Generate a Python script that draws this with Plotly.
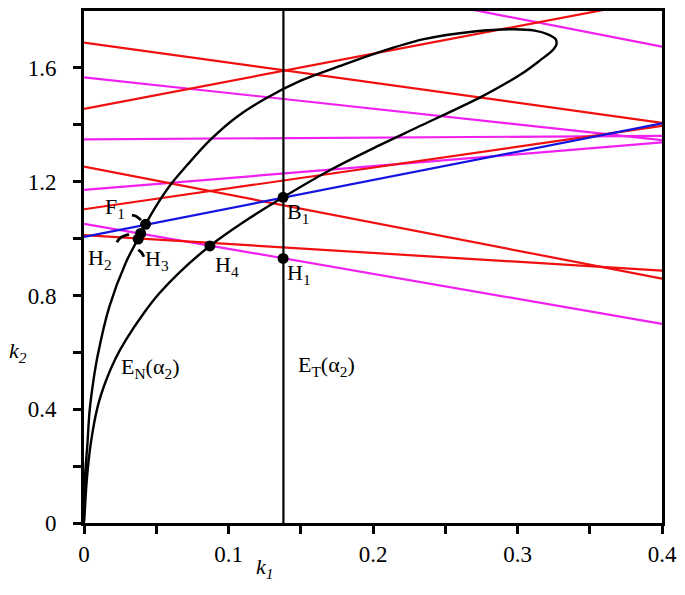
import plotly.graph_objects as go

# straight loci: value of k2 at k1 = 0 and at k1 = 0.4
K1_ENDS = [0.0, 0.4]
RED_LINES = [[1.689, 1.407], [1.456, 1.843], [1.253, 0.859],
             [1.012, 0.887], [1.103, 1.396]]
MAGENTA_LINES = [[1.567, 1.346], [1.349, 1.361], [2.07, 1.675],
                 [1.052, 0.700], [1.171, 1.338]]
BLUE_LINE = [1.006, 1.405]

# E_N(alpha_2): steep branch from origin up to the tip ...
EN_UP_K1 = [0.0, 0.0008, 0.0024, 0.0038, 0.0065, 0.0095, 0.0175, 0.0289,
            0.0375, 0.0426, 0.050, 0.060, 0.072, 0.087, 0.105, 0.1248,
            0.150, 0.1773, 0.2024, 0.2344, 0.270, 0.298, 0.312, 0.321,
            0.3265]
EN_UP_K2 = [0.0, 0.17, 0.28, 0.39, 0.50, 0.59, 0.76, 0.915,
            1.0, 1.05, 1.115, 1.19, 1.262, 1.345, 1.425, 1.490,
            1.555, 1.607, 1.652, 1.700, 1.728, 1.736, 1.731, 1.718,
            1.700]
# ... and the lower branch from the tip back down to the origin
EN_DN_K1 = [0.3268, 0.3235, 0.316, 0.3045, 0.2755, 0.2344, 0.2024, 0.1704,
            0.1378, 0.111, 0.0871, 0.0654, 0.0517, 0.0417, 0.0289, 0.022,
            0.0152, 0.0095, 0.0047, 0.0019, 0.0]
EN_DN_K2 = [1.680, 1.658, 1.628, 1.585, 1.500, 1.400, 1.323, 1.241,
            1.145, 1.060, 0.974, 0.878, 0.805, 0.740, 0.643, 0.580,
            0.500, 0.410, 0.280, 0.150, 0.0]

ET_K1 = 0.138  # vertical line E_T(alpha_2)
K2_RANGE = [0.0, 1.8]

# marked points
PT_NAMES = ["F1", "H2", "H3", "H4", "B1", "H1"]
PT_K1 = [0.0426, 0.0392, 0.0375, 0.0871, 0.1378, 0.1378]
PT_K2 = [1.050, 1.018, 0.998, 0.974, 1.145, 0.930]

# little curved leaders next to F1, H2, H3
LEAD_F1 = ([0.0332, 0.0366, 0.0394], [1.082, 1.077, 1.065])
LEAD_H2 = ([0.0227, 0.0255, 0.0312], [0.987, 1.004, 1.015])
LEAD_H3 = ([0.0375, 0.0398, 0.0414], [0.960, 0.951, 0.936])

X_TICKS = [0, 0.05, 0.1, 0.15, 0.2, 0.25, 0.3, 0.35, 0.4]
X_TEXT = ["0", "", "0.1", "", "0.2", "", "0.3", "", "0.4"]
Y_TICKS = [0, 0.2, 0.4, 0.6, 0.8, 1.0, 1.2, 1.4, 1.6]
Y_TEXT = ["0", "", "0.4", "", "0.8", "", "1.2", "", "1.6"]

SERIF = "Liberation Serif, Times New Roman, serif"
FONT = dict(family=SERIF, size=22, color="black")

fig = go.Figure()
for ys in MAGENTA_LINES:
    fig.add_scatter(x=K1_ENDS, y=ys, mode="lines",
                    line=dict(color="#f020f0", width=2.2))
for ys in RED_LINES:
    fig.add_scatter(x=K1_ENDS, y=ys, mode="lines",
                    line=dict(color="#f01010", width=2.2))
fig.add_scatter(x=K1_ENDS, y=BLUE_LINE, mode="lines",
                line=dict(color="#1414e0", width=2.2))
fig.add_scatter(x=[ET_K1, ET_K1], y=K2_RANGE, mode="lines",
                line=dict(color="black", width=2.2))
fig.add_scatter(x=EN_UP_K1 + EN_DN_K1, y=EN_UP_K2 + EN_DN_K2, mode="lines",
                line=dict(color="black", width=2.4, shape="spline",
                          smoothing=0.9))
for lx, ly in (LEAD_F1, LEAD_H2, LEAD_H3):
    fig.add_scatter(x=lx, y=ly, mode="lines",
                    line=dict(color="black", width=2.8, shape="spline"))
fig.add_scatter(x=PT_K1, y=PT_K2, mode="markers", text=PT_NAMES,
                marker=dict(color="black", size=11))

labels = [
    ("F<sub>1</sub>", 0.0216, 1.107),
    ("H<sub>2</sub>", 0.0112, 0.928),
    ("H<sub>3</sub>", 0.0505, 0.924),
    ("H<sub>4</sub>", 0.0990, 0.903),
    ("B<sub>1</sub>", 0.1480, 1.090),
    ("H<sub>1</sub>", 0.1485, 0.875),
    ("E<sub>N</sub>(α<sub>2</sub>)", 0.0460, 0.545),
    ("E<sub>T</sub>(α<sub>2</sub>)", 0.1675, 0.553),
]
for txt, x, y in labels:
    fig.add_annotation(x=x, y=y, text=txt, showarrow=False, font=FONT)

fig.add_annotation(x=0.125, y=-0.12, xref="x", yref="paper",
                   text="<i>k<sub>1</sub></i>", showarrow=False, font=FONT)
fig.add_annotation(x=-0.133, y=0.60, xref="paper", yref="y",
                   text="<i>k<sub>2</sub></i>", showarrow=False, font=FONT)

axis = dict(showline=True, linecolor="black", linewidth=3, mirror=True,
            ticks="outside", ticklen=8, tickwidth=2.5, tickcolor="black",
            showgrid=False, zeroline=False,
            tickfont=dict(family=SERIF, size=23, color="black"))
fig.update_xaxes(range=[0, 0.4], tickvals=X_TICKS, ticktext=X_TEXT, **axis)
fig.update_yaxes(range=K2_RANGE, tickvals=Y_TICKS, ticktext=Y_TEXT,
                 ticklabelstandoff=12, **axis)
fig.update_layout(width=685, height=595, showlegend=False, font=FONT,
                  plot_bgcolor="white", paper_bgcolor="white",
                  margin=dict(l=84, r=18, t=8, b=72))
fig.write_html("out.html", config={"displayModeBar": False},
               post_script="document.body.style.margin = '0';")
